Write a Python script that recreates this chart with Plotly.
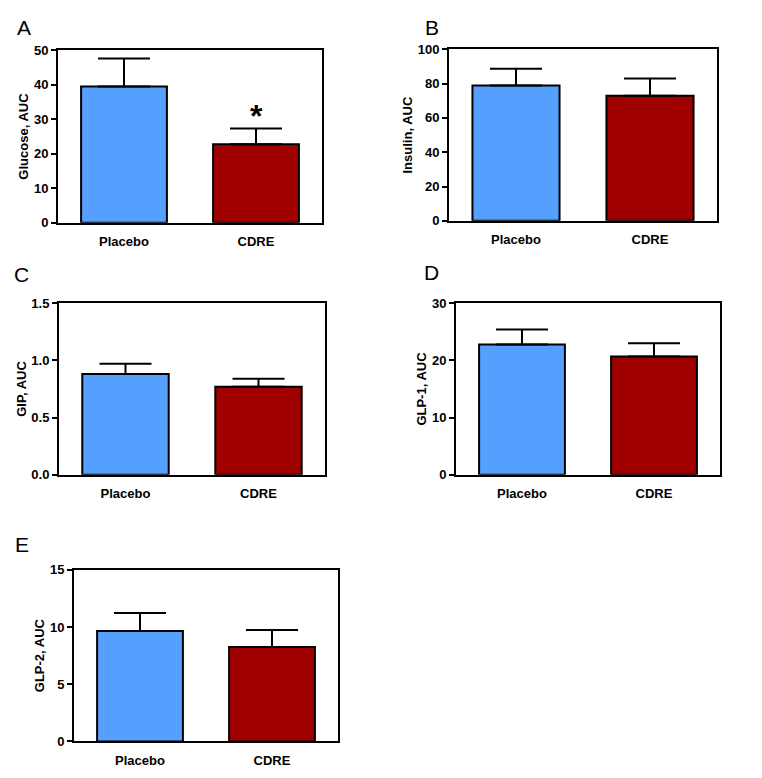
import plotly.graph_objects as go
from plotly.subplots import make_subplots

# page is 762x778; the browser body adds an 8px margin round the figure
PAD = 8
W, H = 762 - 2 * PAD, 778 - 2 * PAD

groups = ["Placebo", "CDRE"]
bar_colors = ["#559FFF", "#A00000"]

glucose = [39.5, 22.8]
glucose_err = [8.1, 4.5]
insulin = [78.9, 73.0]
insulin_err = [9.8, 10.0]
gip = [0.88, 0.77]
gip_err = [0.09, 0.07]
glp1 = [22.8, 20.7]
glp1_err = [2.6, 2.3]
glp2 = [9.65, 8.25]
glp2_err = [1.57, 1.5]

panels = [
    # letter, ytitle, values, errors, y max, dtick, tickformat, row, col
    ("A", "Glucose, AUC", glucose, glucose_err, 50, 10, "d", 1, 1),
    ("B", "Insulin, AUC", insulin, insulin_err, 100, 20, "d", 1, 2),
    ("C", "GIP, AUC", gip, gip_err, 1.5, 0.5, ".1f", 2, 1),
    ("D", "GLP-1, AUC", glp1, glp1_err, 30, 10, "d", 2, 2),
    ("E", "GLP-2, AUC", glp2, glp2_err, 15, 5, "d", 3, 1),
]

# plot boxes in page pixels (left, right, top, bottom)
boxes = {
    "A": (58, 322, 44, 220),
    "B": (449, 717, 43, 218),
    "C": (59, 325, 302, 477),
    "D": (456, 720, 302, 477),
    "E": (74, 338, 574, 749),
}
# panel letter centres in page pixels (None -> pinned to the top edge)
letters = {"A": (24, None), "B": (432, None), "C": (21, 273), "D": (431, 271), "E": (22, 548)}


def px_x(v):
    return (v - PAD) / W


def px_y(v):
    return 1 - (v - PAD) / H


fig = make_subplots(rows=3, cols=2, specs=[[{}, {}], [{}, {}], [{}, None]])

bold = dict(family="Liberation Sans, Arial, sans-serif", size=13, color="black", weight="bold")
letter_font = dict(family="Liberation Sans, Arial, sans-serif", size=21, color="black")

for letter, ytitle, vals, errs, ymax, dtick, fmt, r, c in panels:
    fig.add_trace(go.Bar(
        x=groups, y=vals,
        marker=dict(color=bar_colors, line=dict(color="black", width=2)),
        width=0.65,
        error_y=dict(type="data", array=errs, arrayminus=[0, 0], symmetric=False,
                     color="black", thickness=2, width=26),
        showlegend=False,
    ), row=r, col=c)

    l, rr, t, b = boxes[letter]
    fig.update_xaxes(domain=[px_x(l), px_x(rr)], range=[-0.5, 1.5],
                     showline=True, linecolor="black", linewidth=2, mirror=True,
                     ticks="", ticklabelstandoff=6, tickfont=bold,
                     showgrid=False, zeroline=False, fixedrange=True, row=r, col=c)
    fig.update_yaxes(domain=[px_y(b), px_y(t)], range=[0, ymax], dtick=dtick, tick0=0,
                     tickformat=fmt,
                     showline=True, linecolor="black", linewidth=2, mirror=True,
                     ticks="outside", ticklen=5, tickwidth=2, tickcolor="black",
                     tickfont=bold, title=dict(text=ytitle, font=bold, standoff=2),
                     showgrid=False, zeroline=False, row=r, col=c)

    lx, ly = letters[letter]
    if ly is None:
        fig.add_annotation(text=letter, x=px_x(lx), y=1, xref="paper", yref="paper",
                           xanchor="center", yanchor="top", borderpad=0,
                           showarrow=False, font=letter_font)
    else:
        fig.add_annotation(text=letter, x=px_x(lx), y=px_y(ly), xref="paper", yref="paper",
                           xanchor="center", yanchor="middle", showarrow=False,
                           font=letter_font)

# significance marker on the CDRE glucose bar
fig.add_annotation(text="*", x="CDRE", y=glucose[1] + glucose_err[1], xref="x", yref="y",
                   xanchor="center", yanchor="bottom", yshift=-7, showarrow=False,
                   font=dict(family="Liberation Sans, Arial, sans-serif", size=32,
                             color="black", weight="bold"))

fig.update_layout(
    width=W, height=H,
    margin=dict(l=0, r=0, t=0, b=0),
    plot_bgcolor="white", paper_bgcolor="white",
    bargap=0.35,
)

fig.write_html("out.html")
